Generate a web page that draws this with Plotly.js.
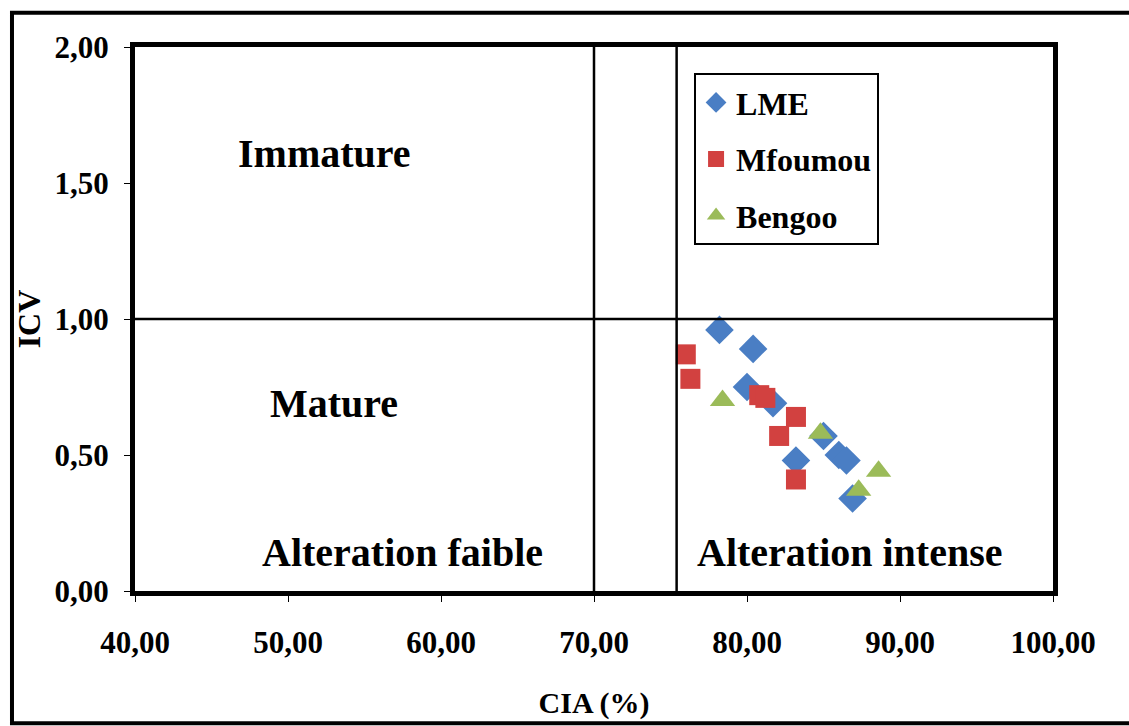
<!DOCTYPE html>
<html>
<head>
<meta charset="utf-8">
<script src="https://cdn.plot.ly/plotly-3.0.1.min.js"></script>
<style>html,body{margin:0;padding:0;background:#fff;}#chart{width:1129px;height:726px;}</style>
</head>
<body>
<div id="chart"></div>
<script>
// Data
const lmeCIA = [78.2, 80.4, 80.0, 81.7, 85.0, 86.0, 86.5, 83.2, 86.9];
const lmeICV = [0.96, 0.89, 0.75, 0.69, 0.57, 0.50, 0.48, 0.48, 0.34];
const mfoumouCIA = [76.0, 76.3, 80.8, 81.2, 83.2, 82.1, 83.2];
const mfoumouICV = [0.87, 0.78, 0.72, 0.71, 0.64, 0.57, 0.41];
const bengooCIA = [78.4, 84.8, 88.6, 87.3];
const bengooICV = [0.70, 0.58, 0.44, 0.37];

const seriesNames = ['LME', 'Mfoumou', 'Bengoo'];
const boundaryCIA = [70, 75.4];
const boundaryICV = [1.0];
const zoneLabels = ['Immature', 'Mature', 'Alteration faible', 'Alteration intense'];
const zoneCIA = [52.4, 53.0, 57.5, 86.7];
const zoneICV = [1.61, 0.69, 0.14, 0.14];

const FONT = '"Liberation Serif", "Times New Roman", serif';

const traces = [
  {x: lmeCIA, y: lmeICV, name: seriesNames[0], type: 'scatter', mode: 'markers', legendgroup: 'a',
   marker: {symbol: 'diamond', size: 22, color: '#4A7EC4'}},
  {x: mfoumouCIA, y: mfoumouICV, name: seriesNames[1], type: 'scatter', mode: 'markers', legendgroup: 'b',
   marker: {symbol: 'square', size: 20, color: '#D24140'}},
  {x: bengooCIA, y: bengooICV, name: seriesNames[2], type: 'scatter', mode: 'markers', legendgroup: 'c',
   marker: {symbol: 'triangle-up', size: 22, color: '#9BBB59'}}
];

const shapes = [];
boundaryCIA.forEach(v => shapes.push({type: 'line', xref: 'x', yref: 'y', x0: v, x1: v, y0: 0, y1: 2,
  line: {color: '#000', width: 2.5}, layer: 'above'}));
boundaryICV.forEach(v => shapes.push({type: 'line', xref: 'x', yref: 'y', x0: 40, x1: 100, y0: v, y1: v,
  line: {color: '#000', width: 2.5}, layer: 'above'}));
// outer chart frame
shapes.push({type: 'rect', xref: 'paper', yref: 'paper', x0: -0.134, x1: 1.16, y0: -0.243, y1: 1.063,
  line: {color: '#000', width: 4}, fillcolor: 'rgba(0,0,0,0)'});

const annotations = zoneLabels.map((t, i) => ({
  x: zoneCIA[i], y: zoneICV[i], xref: 'x', yref: 'y', text: '<b>' + t + '</b>', showarrow: false,
  font: {family: FONT, size: 40, color: '#000'}
}));

const layout = {
  width: 1129, height: 726,
  margin: {l: 135, r: 76, t: 47, b: 135},
  paper_bgcolor: '#fff', plot_bgcolor: '#fff',
  separators: ',.',
  font: {family: FONT, color: '#000'},
  showlegend: true,
  legend: {x: 0.609, y: 0.952, xanchor: 'left', yanchor: 'top', bgcolor: '#fff',
    bordercolor: '#000', borderwidth: 2, traceorder: 'grouped', tracegroupgap: 12,
    entrywidth: 150, entrywidthmode: 'pixels',
    font: {family: FONT, size: 32, color: '#000', weight: 'bold'}},
  xaxis: {range: [40, 100], dtick: 10, tick0: 40, tickformat: '.2f', showgrid: false, zeroline: false,
    showline: true, mirror: true, linecolor: '#000', linewidth: 5, ticks: 'outside', ticklen: 6, tickwidth: 1,
    tickcolor: '#000', ticklabelstandoff: 14,
    tickfont: {family: FONT, size: 31, color: '#000', weight: 'bold'},
    title: {text: '<b>CIA (%)</b>', font: {family: FONT, size: 30, color: '#000'}, standoff: 34}},
  yaxis: {range: [0, 2], dtick: 0.5, tick0: 0, tickformat: '.2f', showgrid: false, zeroline: false,
    showline: true, mirror: true, linecolor: '#000', linewidth: 5, ticks: 'outside', ticklen: 6, tickwidth: 1,
    tickcolor: '#000', ticklabelstandoff: 9,
    tickfont: {family: FONT, size: 31, color: '#000', weight: 'bold'},
    title: {text: '<b>ICV</b>', font: {family: FONT, size: 32, color: '#000'}, standoff: 6}},
  shapes: shapes,
  annotations: annotations
};

Plotly.newPlot('chart', traces, layout, {displayModeBar: false, staticPlot: true});
</script>
</body>
</html>
